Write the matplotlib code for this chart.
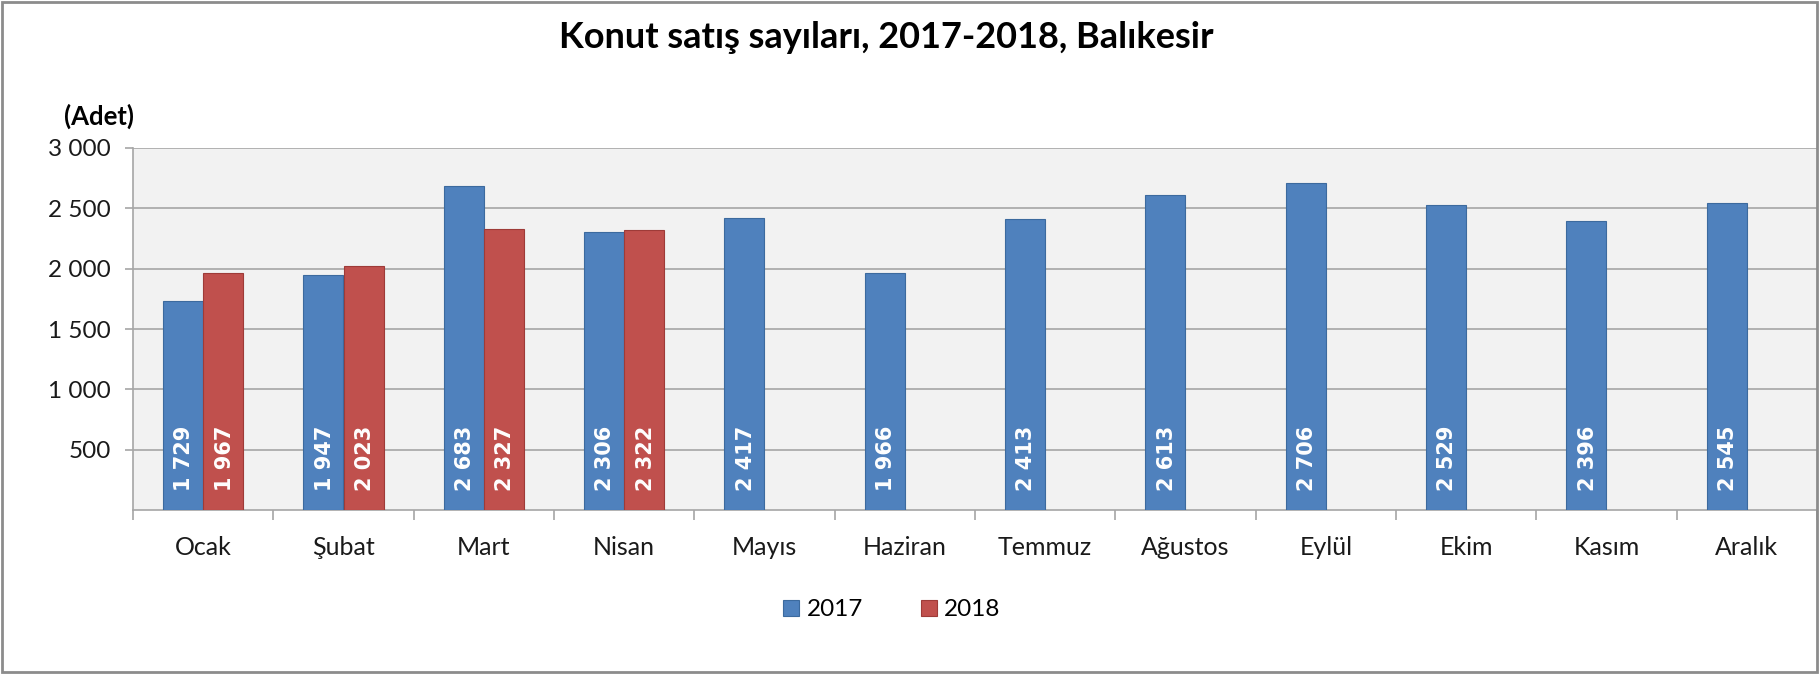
import numpy as np
import matplotlib
matplotlib.use("Agg")
import matplotlib.pyplot as plt
from matplotlib.patches import Rectangle
from matplotlib.ticker import FixedLocator

plt.rcParams['font.family'] = ['Lato', 'DejaVu Sans']

months = ['Ocak', 'Şubat', 'Mart', 'Nisan', 'Mayıs', 'Haziran',
          'Temmuz', 'Ağustos', 'Eylül', 'Ekim', 'Kasım', 'Aralık']
sales_2017 = [1729, 1947, 2683, 2306, 2417, 1966, 2413, 2613, 2706, 2529, 2396, 2545]
sales_2018 = [1967, 2023, 2327, 2322]
yticks = [500, 1000, 1500, 2000, 2500, 3000]

blue = '#4F81BD'
red = '#C0504D'

def fmt(v):
    return '{:,}'.format(v).replace(',', ' ')

fig = plt.figure(figsize=(18.2, 6.75), dpi=100)
ax = fig.add_axes([133/1820, 1-510/675, (1817-133)/1820, (510-148)/675])
ax.set_facecolor('#F2F2F2')

x = np.arange(len(months))
w = 0.286
b1 = ax.bar(x[:len(sales_2017)] - w/2, sales_2017, w, color=blue,
            edgecolor='#3C6A9E', linewidth=0.8, label='2017', zorder=3)
b2 = ax.bar(x[:len(sales_2018)] + w/2, sales_2018, w, color=red,
            edgecolor='#9E3B38', linewidth=0.8, label='2018', zorder=3)

for bars, vals in [(b1, sales_2017), (b2, sales_2018)]:
    for r, v in zip(bars, vals):
        ax.annotate(fmt(v), (r.get_x() + r.get_width()/2, 0),
                    xytext=(1, 14), textcoords='offset points',
                    rotation=90, ha='center', va='bottom',
                    color='white', fontsize=15, fontweight='bold',
                    family='DejaVu Sans', zorder=4)

ax.set_xlim(-0.5, len(months) - 0.5)
ax.set_ylim(0, 3000)
ax.set_yticks(yticks)
ax.set_yticklabels([fmt(t) for t in yticks])
ax.yaxis.grid(True, color='#A6A6A6', linewidth=1.2, zorder=0)
ax.set_axisbelow(True)

ax.set_xticks(x)
ax.set_xticklabels(months)
ax.xaxis.set_minor_locator(FixedLocator(np.arange(-0.5, len(months), 1)))
ax.tick_params(axis='x', which='major', length=0, pad=19, labelsize=18, colors='#1a1a1a')
ax.tick_params(axis='x', which='minor', length=7, width=1.2, color='#A6A6A6')
ax.tick_params(axis='y', length=6, width=1.2, color='#A6A6A6', pad=10,
               labelsize=17.5, labelcolor='#1a1a1a')

for s in ['top', 'right']:
    ax.spines[s].set_visible(False)
for s in ['left', 'bottom']:
    ax.spines[s].set_color('#A6A6A6')
    ax.spines[s].set_linewidth(1.2)

fig.text(886/1820, 1-38/675, 'Konut satış sayıları, 2017-2018, Balıkesir',
         ha='center', va='center', fontsize=26, fontweight='bold')
fig.text(64/1820, 1-116/675, '(Adet)', ha='left', va='center',
         fontsize=18.5, fontweight='bold')

leg = fig.legend(loc='center', bbox_to_anchor=(892/1820, 1-610/675), ncol=2,
                 frameon=False, fontsize=17.5, handlelength=0.65, handleheight=0.65,
                 handletextpad=0.3, columnspacing=2.4)

fig.patches.append(Rectangle((2/1820, 3/675), 1815/1820, 670/675,
                             transform=fig.transFigure, fill=False,
                             edgecolor='#8C8C8C', linewidth=2))

fig.savefig('out.png', dpi=100)
